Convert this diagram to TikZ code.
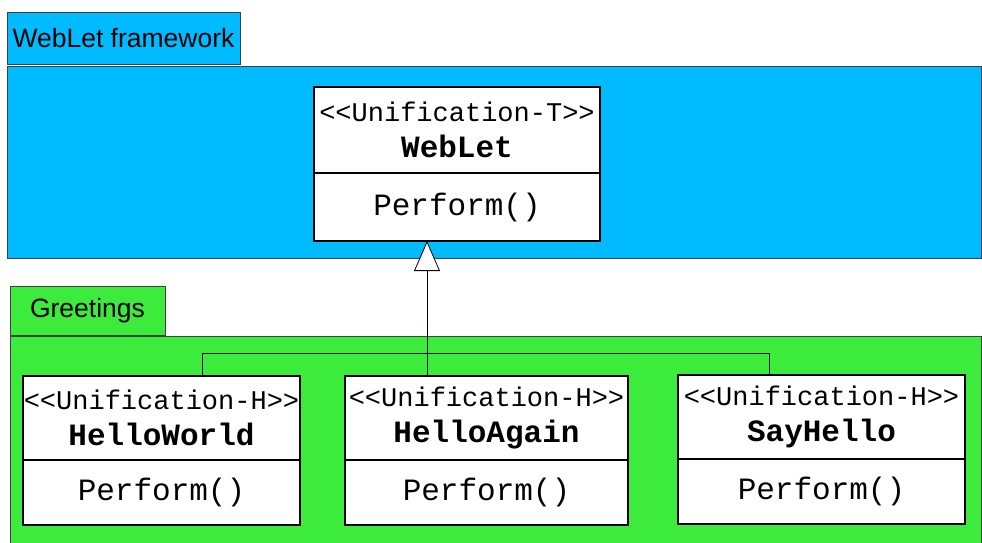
\documentclass[tikz,border=0pt]{standalone}
\usepackage{fontspec}
\setmainfont{Liberation Sans}
\setmonofont{Liberation Mono}
\usetikzlibrary{arrows.meta,positioning}
\definecolor{frameblue}{RGB}{0,187,255}
\definecolor{greetgreen}{RGB}{61,235,61}

\begin{document}
\begin{tikzpicture}[x=1pt,y=-1pt,
  pkgtab/.style={draw=black!75,line width=0.8pt,inner sep=0pt,outer sep=0pt,anchor=north west,font=\fontsize{26.5}{30}\selectfont},
  pkgbox/.style={draw=black!75,line width=0.8pt},
  classhead/.style={draw,line width=2.6pt,fill=white,inner sep=0pt,outer sep=0pt,align=center,font=\ttfamily\fontsize{27}{36}\selectfont},
  classbody/.style={draw,line width=2.6pt,fill=white,inner sep=0pt,outer sep=0pt,font=\ttfamily\fontsize{31}{36}\selectfont},
  wire/.style={line width=0.8pt},
  inherit/.style={line width=0.8pt,-{Triangle[width=26pt,length=30pt,fill=white]}}]
\useasboundingbox (0,0) rectangle (982,542);
\fill[white] (0,0) rectangle (982,542);
% package WebLet framework
\node[pkgtab,fill=frameblue,minimum width=233,minimum height=52] (fwtab) at (7,12) {WebLet framework};
\draw[pkgbox,fill=frameblue] (7,66) rectangle (981.5,258);
% package Greetings
\node[pkgtab,fill=greetgreen,minimum width=155,minimum height=49] (grtab) at (10,286) {\raisebox{-3pt}{Greetings}};
\draw[pkgbox,fill=greetgreen] (10,336) rectangle (981.5,545);
% classes
\node[classhead,minimum width=286,minimum height=86] (wlh) at (457,130)
  {<<Unification-T>>\\{\fontsize{31}{36}\selectfont\bfseries WebLet}};
\node[classbody,minimum width=286,minimum height=68,below=0pt of wlh] (wlb) {Perform()};
\node[classhead,minimum width=277,minimum height=84] (hwh) at (161.5,418)
  {<<Unification-H>>\\{\fontsize{31}{36}\selectfont\bfseries HelloWorld}};
\node[classbody,minimum width=277,minimum height=65,below=0pt of hwh] (hwb) {Perform()};
\node[classhead,minimum width=283,minimum height=84] (hah) at (486.5,418)
  {<<Unification-H>>\\{\fontsize{31}{36}\selectfont\bfseries HelloAgain}};
\node[classbody,minimum width=283,minimum height=65,below=0pt of hah] (hab) {Perform()};
\node[classhead,minimum width=287,minimum height=84] (shh) at (821.5,417)
  {<<Unification-H>>\\{\fontsize{31}{36}\selectfont\bfseries SayHello}};
\node[classbody,minimum width=287,minimum height=65,below=0pt of shh] (shb) {Perform()};
% generalisation
\coordinate (busl) at (202,353);
\coordinate (busm) at (427,353);
\coordinate (busr) at (769,353);
\draw[wire] (busl |- hwh.north) -- (busl) -- (busr) -- (busr |- shh.north);
\draw[inherit] (busm |- hah.north) -- (busm |- wlb.south);
\end{tikzpicture}
\end{document}
